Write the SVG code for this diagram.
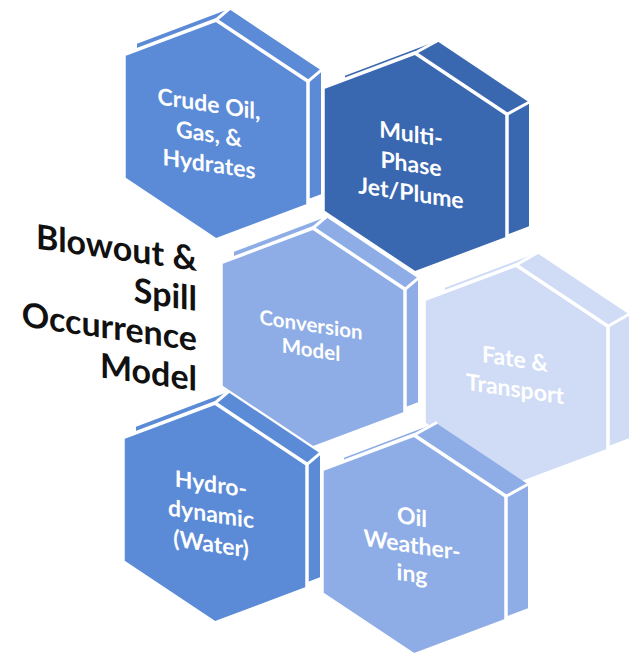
<svg xmlns="http://www.w3.org/2000/svg" width="633" height="659" viewBox="0 0 633 659">
  <style>
    .front { stroke: #ffffff; stroke-width: 3.5; stroke-linejoin: round; }
    .edge { stroke: #ffffff; stroke-width: 3; stroke-linecap: round; fill: none; }
    .medium { fill: #5b8bd7; }
    .dark { fill: #3a68b0; }
    .light { fill: #8eade6; }
    .pale { fill: #d0dcf6; }
    .label { font-family: Lato, "Open Sans", "Liberation Sans", sans-serif; font-weight: 700; font-size: 23px; fill: #ffffff; text-anchor: middle; }
    .title { font-family: Lato, "Open Sans", "Liberation Sans", sans-serif; font-weight: 700; font-size: 34px; fill: #111111; text-anchor: end; }
  </style>
  <rect width="633" height="659" fill="#ffffff"/>

  <!-- Crude Oil, Gas, & Hydrates -->
  <g id="hex-crude">
    <polygon class="medium" points="229,9 321,70.3 321,194.3 229,229 137,167.7 137,43.7"/>
    <polygon class="medium front" points="216,20 308,81.3 308,205.3 216,240 124,178.7 124,54.7"/>
    <path class="edge" d="M216,20 L229,9 M308,81.3 L321,70.3"/>
    <text class="label" transform="translate(209,112) skewY(8.5)">
      <tspan x="0" y="0">Crude Oil,</tspan><tspan x="0" y="30">Gas, &amp;</tspan><tspan x="0" y="60">Hydrates</tspan>
    </text>
  </g>

  <!-- Multi-Phase Jet/Plume -->
  <g id="hex-plume">
    <polygon class="dark" points="437,41 529,102.3 529,226.3 437,261 345,199.7 345,75.7"/>
    <polygon class="dark front" points="415,53 507,114.3 507,238.3 415,273 323,211.7 323,87.7"/>
    <path class="edge" d="M415,53 L437,41 M507,114.3 L529,102.3"/>
    <text class="label" transform="translate(411,142) skewY(8.5)">
      <tspan x="0" y="0">Multi-</tspan><tspan x="0" y="30">Phase</tspan><tspan x="0" y="59">Jet/Plume</tspan>
    </text>
  </g>

  <!-- Conversion Model -->
  <g id="hex-conversion">
    <polygon class="light" points="326,217 418,278.3 418,402.3 326,437 234,375.7 234,251.7"/>
    <polygon class="light front" points="313,228 405,289.3 405,413.3 313,448 221,386.7 221,262.7"/>
    <path class="edge" d="M313,228 L326,217 M405,289.3 L418,278.3"/>
    <text class="label" style="font-size:20.5px" transform="translate(311,332) skewY(8.5)">
      <tspan x="0" y="0">Conversion</tspan><tspan x="0" y="25">Model</tspan>
    </text>
  </g>

  <!-- Fate & Transport -->
  <g id="hex-fate">
    <polygon class="pale" points="537,253 629,314.3 629,438.3 537,473 445,411.7 445,287.7"/>
    <polygon class="pale front" points="516,265 608,326.3 608,450.3 516,485 424,423.7 424,299.7"/>
    <path class="edge" d="M516,265 L537,253 M608,326.3 L629,314.3"/>
    <text class="label" transform="translate(515,367) skewY(8.5)">
      <tspan x="0" y="0">Fate &amp;</tspan><tspan x="0" y="30">Transport</tspan>
    </text>
  </g>

  <!-- Hydrodynamic (Water) -->
  <g id="hex-hydro">
    <polygon class="medium" points="228,392 320,453.3 320,577.3 228,612 136,550.7 136,426.7"/>
    <polygon class="medium front" points="215,403 307,464.3 307,588.3 215,623 123,561.7 123,437.7"/>
    <path class="edge" d="M215,403 L228,392 M307,464.3 L320,453.3"/>
    <text class="label" transform="translate(211,492) skewY(8.5)">
      <tspan x="0" y="0">Hydro-</tspan><tspan x="0" y="30">dynamic</tspan><tspan x="0" y="60">(Water)</tspan>
    </text>
  </g>

  <!-- Oil Weathering -->
  <g id="hex-weathering">
    <polygon class="light" points="436,423 528,484.3 528,608.3 436,643 344,581.7 344,457.7"/>
    <polygon class="light front" points="414,435 506,496.3 506,620.3 414,655 322,593.7 322,469.7"/>
    <path class="edge" d="M414,435 L436,423 M506,496.3 L528,484.3"/>
    <text class="label" transform="translate(412,525) skewY(8.5)">
      <tspan x="0" y="0">Oil</tspan><tspan x="0" y="28">Weather-</tspan><tspan x="0" y="57">ing</tspan>
    </text>
  </g>

  <!-- Side title -->
  <g id="title">
    <text class="title" transform="translate(197,271) skewY(8)">
      <tspan x="0" y="0">Blowout &amp;</tspan><tspan x="0" y="40">Spill</tspan><tspan x="0" y="80">Occurrence</tspan><tspan x="0" y="120">Model</tspan>
    </text>
  </g>
</svg>
